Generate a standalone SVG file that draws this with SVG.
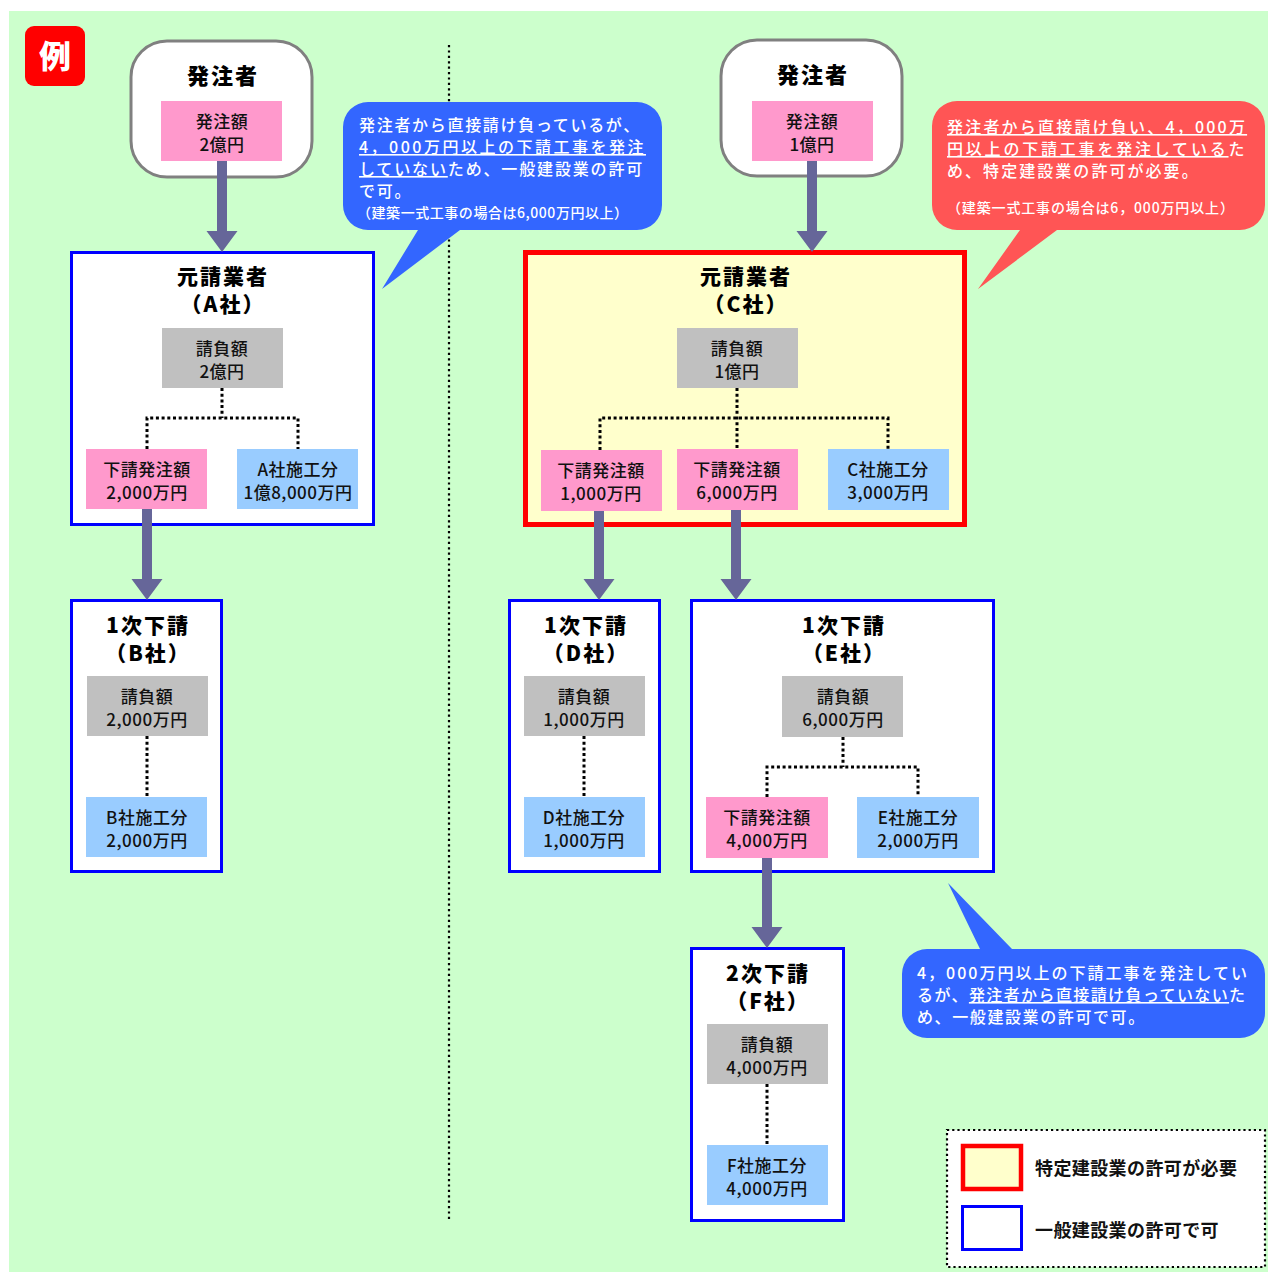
<svg xmlns="http://www.w3.org/2000/svg" width="1268" height="1272" viewBox="0 0 1268 1272">
<style>
text{font-family:"Noto Sans CJK JP","Noto Sans",sans-serif;}
.ttl{font-size:21px;font-weight:900;fill:#000;text-anchor:middle;letter-spacing:2px;}
.ttl2{font-size:22px;font-weight:900;fill:#000;text-anchor:middle;letter-spacing:2px;}
.bt{font-size:17px;font-weight:500;fill:#111;text-anchor:middle;letter-spacing:0.5px;}
.ct{font-size:16px;font-weight:500;fill:#fff;}
.cs{font-size:14px;font-weight:500;}
.lg{font-size:18px;font-weight:700;fill:#111;}
.pink{fill:#FF99CC;}
.gray{fill:#C0C0C0;}
.blue{fill:#99CCFF;}
.bbox{fill:#fff;stroke:#0000FF;stroke-width:3;}
.rbox{fill:#FFFFCC;stroke:#FF0000;stroke-width:5;}
.oval{fill:#fff;stroke:#808080;stroke-width:3;}
.dot{fill:none;stroke:#000;stroke-width:3;stroke-dasharray:3 2.7;}
.arr{fill:#666699;}
.u{text-decoration:underline;}
</style>
<rect x="9" y="11" width="1259" height="1261" fill="#CCFFCC"/>
<line x1="449" y1="45" x2="449" y2="1220" stroke="#000" stroke-width="2.2" stroke-dasharray="2.2 3.2"/>

<g id="rei">
<rect x="25" y="26" width="60" height="60" rx="9" fill="#FF0000"/>
<text x="55" y="68" font-size="32" font-weight="900" fill="#fff" text-anchor="middle">例</text>
</g>

<g id="hacchusha-left">
<rect class="oval" x="131" y="41" width="181" height="136" rx="36"/>
<text class="ttl2" x="223" y="84">発注者</text>
<rect class="pink" x="161" y="101" width="121" height="60"/>
<text class="bt"><tspan x="222" y="128">発注額</tspan><tspan x="222" y="151">2億円</tspan></text>
</g>

<g id="motouke-A">
<rect class="bbox" x="71.5" y="252.5" width="302" height="272"/>
<text class="ttl"><tspan x="223" y="284">元請業者</tspan><tspan x="223" y="312">（A社）</tspan></text>
<rect class="gray" x="162" y="328" width="121" height="60"/>
<text class="bt"><tspan x="222" y="355">請負額</tspan><tspan x="222" y="378">2億円</tspan></text>
<path class="dot" d="M222,388 V418 M147,449 V418 H298 V449"/>
<rect class="pink" x="86" y="449" width="121" height="60"/>
<text class="bt"><tspan x="147" y="476">下請発注額</tspan><tspan x="147" y="499">2,000万円</tspan></text>
<rect class="blue" x="237" y="449" width="121" height="60"/>
<text class="bt"><tspan x="298" y="476">A社施工分</tspan><tspan x="298" y="499">1億8,000万円</tspan></text>
</g>

<g id="sub-B">
<rect class="bbox" x="71.5" y="600.5" width="150" height="271"/>
<text class="ttl"><tspan x="148" y="633">1次下請</tspan><tspan x="148" y="661">（B社）</tspan></text>
<rect class="gray" x="87" y="676" width="121" height="60"/>
<text class="bt"><tspan x="147" y="703">請負額</tspan><tspan x="147" y="726">2,000万円</tspan></text>
<path class="dot" d="M147,736 V797"/>
<rect class="blue" x="86" y="797" width="121" height="60"/>
<text class="bt"><tspan x="147" y="824">B社施工分</tspan><tspan x="147" y="847">2,000万円</tspan></text>
</g>

<g id="hacchusha-right">
<rect class="oval" x="721" y="40" width="181" height="136" rx="36"/>
<text class="ttl2" x="813" y="83">発注者</text>
<rect class="pink" x="752" y="101" width="121" height="60"/>
<text class="bt"><tspan x="812" y="128">発注額</tspan><tspan x="812" y="151">1億円</tspan></text>
</g>

<g id="motouke-C">
<rect class="rbox" x="525.5" y="252.5" width="439" height="272"/>
<text class="ttl"><tspan x="746" y="284">元請業者</tspan><tspan x="746" y="312">（C社）</tspan></text>
<rect class="gray" x="677" y="328" width="121" height="60"/>
<text class="bt"><tspan x="737" y="355">請負額</tspan><tspan x="737" y="378">1億円</tspan></text>
<path class="dot" d="M737,388 V449 M600,450 V418 H888 V449"/>
<rect class="pink" x="541" y="450" width="121" height="61"/>
<text class="bt"><tspan x="601" y="477">下請発注額</tspan><tspan x="601" y="500">1,000万円</tspan></text>
<rect class="pink" x="677" y="449" width="121" height="61"/>
<text class="bt"><tspan x="737" y="476">下請発注額</tspan><tspan x="737" y="499">6,000万円</tspan></text>
<rect class="blue" x="828" y="449" width="121" height="61"/>
<text class="bt"><tspan x="888" y="476">C社施工分</tspan><tspan x="888" y="499">3,000万円</tspan></text>
</g>

<g id="sub-D">
<rect class="bbox" x="509.5" y="600.5" width="150" height="271"/>
<text class="ttl"><tspan x="586" y="633">1次下請</tspan><tspan x="586" y="661">（D社）</tspan></text>
<rect class="gray" x="524" y="676" width="121" height="60"/>
<text class="bt"><tspan x="584" y="703">請負額</tspan><tspan x="584" y="726">1,000万円</tspan></text>
<path class="dot" d="M584,736 V797"/>
<rect class="blue" x="524" y="797" width="121" height="60"/>
<text class="bt"><tspan x="584" y="824">D社施工分</tspan><tspan x="584" y="847">1,000万円</tspan></text>
</g>

<g id="sub-E">
<rect class="bbox" x="691.5" y="600.5" width="302" height="271"/>
<text class="ttl"><tspan x="844" y="633">1次下請</tspan><tspan x="844" y="661">（E社）</tspan></text>
<rect class="gray" x="782" y="676" width="121" height="61"/>
<text class="bt"><tspan x="843" y="703">請負額</tspan><tspan x="843" y="726">6,000万円</tspan></text>
<path class="dot" d="M843,737 V767 M767,797 V767 H918 V797"/>
<rect class="pink" x="706" y="797" width="122" height="61"/>
<text class="bt"><tspan x="767" y="824">下請発注額</tspan><tspan x="767" y="847">4,000万円</tspan></text>
<rect class="blue" x="857" y="797" width="122" height="61"/>
<text class="bt"><tspan x="918" y="824">E社施工分</tspan><tspan x="918" y="847">2,000万円</tspan></text>
</g>

<g id="sub-F">
<rect class="bbox" x="691.5" y="948.5" width="152" height="272"/>
<text class="ttl"><tspan x="768" y="981">2次下請</tspan><tspan x="768" y="1009">（F社）</tspan></text>
<rect class="gray" x="707" y="1024" width="121" height="60"/>
<text class="bt"><tspan x="767" y="1051">請負額</tspan><tspan x="767" y="1074">4,000万円</tspan></text>
<path class="dot" d="M767,1084 V1145"/>
<rect class="blue" x="707" y="1145" width="121" height="60"/>
<text class="bt"><tspan x="767" y="1172">F社施工分</tspan><tspan x="767" y="1195">4,000万円</tspan></text>
</g>

<g id="connectors">
<path class="arr" d="M217,161 H227 V231 H237.5 L222,252 L206.5,231 H217 Z"/>
<path class="arr" d="M142,509 H152 V579 H162.5 L147,600 L131.5,579 H142 Z"/>
<path class="arr" d="M807,161 H817 V231 H827.5 L812,252 L796.5,231 H807 Z"/>
<path class="arr" d="M594,511 H604 V579 H614.5 L599,600 L583.5,579 H594 Z"/>
<path class="arr" d="M731,510 H741 V579 H751.5 L736,600 L720.5,579 H731 Z"/>
<path class="arr" d="M762,858 H772 V927 H782.5 L767,948 L751.5,927 H762 Z"/>
</g>

<g id="callout-left">
<path d="M368,102 H637 A25,25 0 0 1 662,127 V205 A25,25 0 0 1 637,230 H460 L382,289 L418,230 H368 A25,25 0 0 1 343,205 V127 A25,25 0 0 1 368,102 Z" fill="#3366FF"/>
<text class="ct"><tspan x="359" y="131" letter-spacing="1.69">発注者から直接請け負っているが、</tspan><tspan x="359" y="153" letter-spacing="2.5" class="u">4，000万円以上の下請工事を発注</tspan><tspan x="359" y="175" letter-spacing="1.85"><tspan class="u">していない</tspan>ため、一般建設業の許可</tspan><tspan x="359" y="197" letter-spacing="1.7">で可。</tspan><tspan x="357" y="218" class="cs" letter-spacing="0.55">（建築一式工事の場合は6,000万円以上）</tspan></text>
</g>

<g id="callout-right">
<path d="M957,101 H1240 A25,25 0 0 1 1265,126 V205 A25,25 0 0 1 1240,230 H1057 L978,289 L1020,230 H957 A25,25 0 0 1 932,205 V126 A25,25 0 0 1 957,101 Z" fill="#FF5555"/>
<text class="ct"><tspan x="947" y="133" letter-spacing="2.2" class="u">発注者から直接請け負い、4，000万</tspan><tspan x="947" y="155" letter-spacing="2.8"><tspan class="u">円以上の下請工事を発注している</tspan>た</tspan><tspan x="947" y="177" letter-spacing="2.05">め、特定建設業の許可が必要。</tspan><tspan x="947" y="213" class="cs" letter-spacing="0.85">（建築一式工事の場合は6，000万円以上）</tspan></text>
</g>

<g id="callout-bottom">
<path d="M927,949 H980 L948,883 L1012,949 H1240 A25,25 0 0 1 1265,974 V1013 A25,25 0 0 1 1240,1038 H927 A25,25 0 0 1 902,1013 V974 A25,25 0 0 1 927,949 Z" fill="#3366FF"/>
<text class="ct"><tspan x="917" y="979" letter-spacing="2">4，000万円以上の下請工事を発注してい</tspan><tspan x="917" y="1001" letter-spacing="1.4">るが、<tspan class="u">発注者から直接請け負っていない</tspan>た</tspan><tspan x="917" y="1023" letter-spacing="1.6">め、一般建設業の許可で可。</tspan></text>
</g>

<g id="legend">
<rect x="947" y="1130" width="318" height="137" fill="#fff" stroke="#000" stroke-width="2.2" stroke-dasharray="2.2 3"/>
<rect x="963" y="1146" width="58" height="43" fill="#FFFFCC" stroke="#FF0000" stroke-width="4.5"/>
<text class="lg" x="1035" y="1175" letter-spacing="0.4">特定建設業の許可が必要</text>
<rect x="962.5" y="1206.5" width="59" height="43" fill="#fff" stroke="#0000FF" stroke-width="3"/>
<text class="lg" x="1035" y="1237" letter-spacing="0.4">一般建設業の許可で可</text>
</g>
</svg>
